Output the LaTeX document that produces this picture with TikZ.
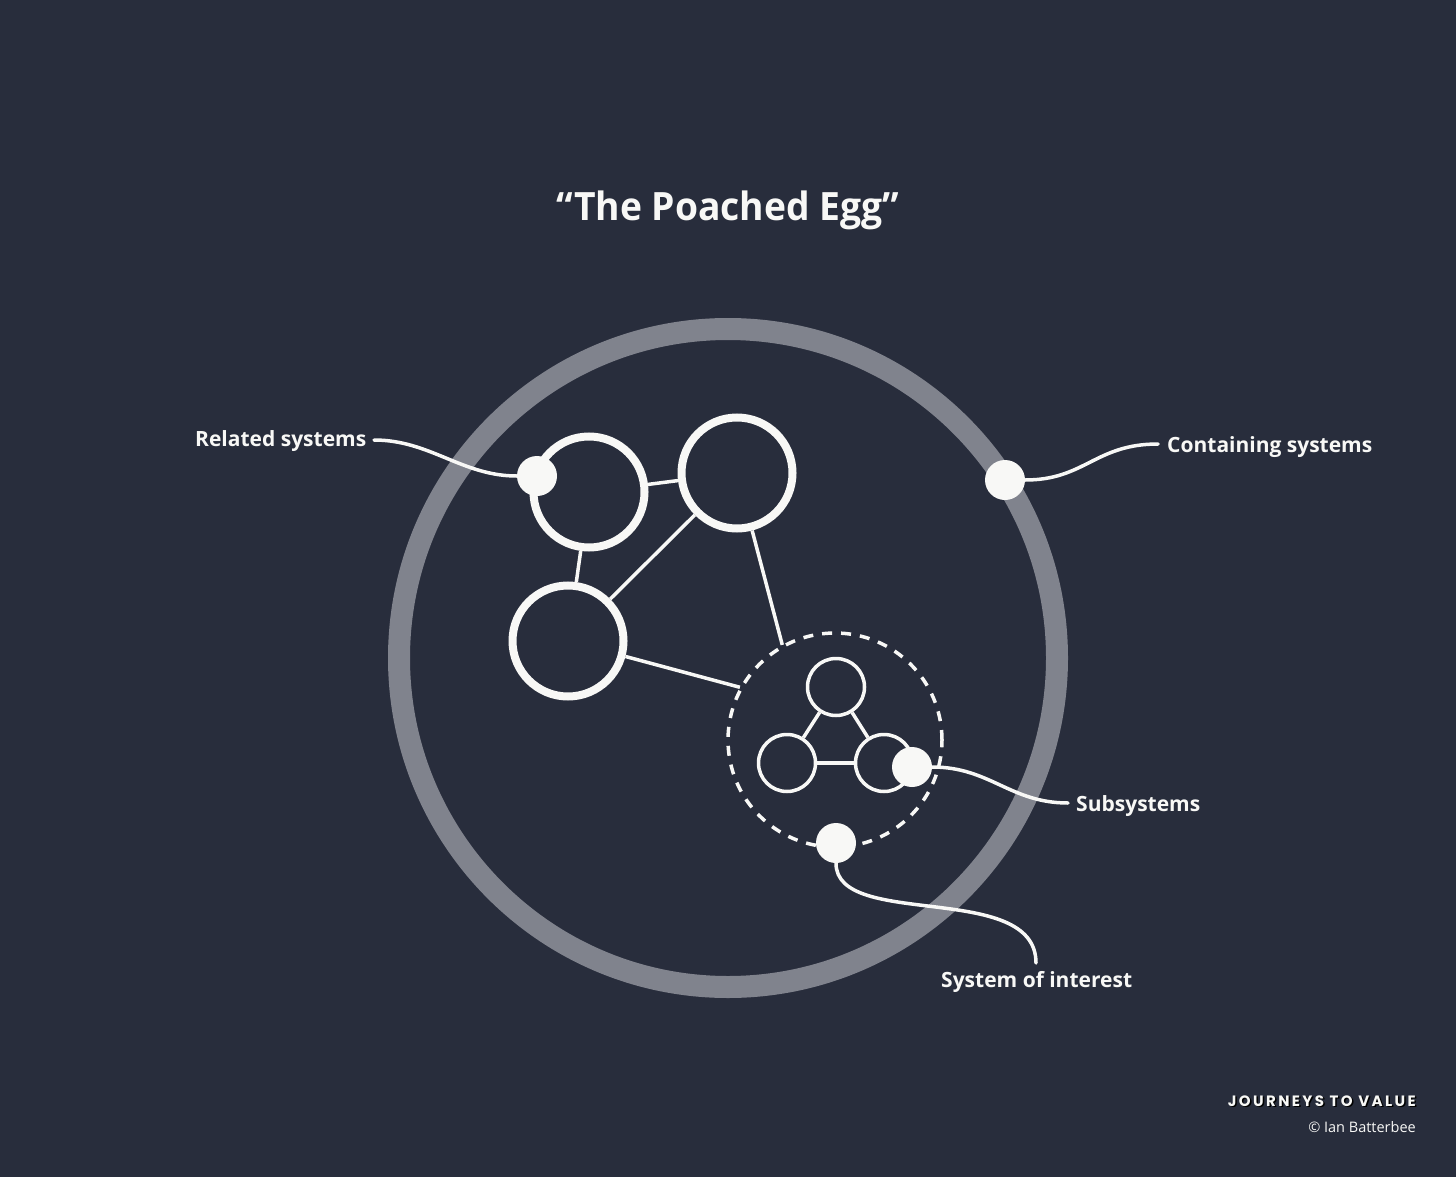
\documentclass[tikz,border=0pt]{standalone}
\usepackage{fontspec}
\setmainfont{Open Sans}
\newfontfamily\labfont{Open Sans}
\newfontfamily\titlefont[FakeStretch=0.955]{Open Sans}
\newfontfamily\brandfont[LetterSpace=16]{Poppins}
\definecolor{bgc}{HTML}{282D3C}
\definecolor{ringc}{HTML}{80838D}
\definecolor{wht}{HTML}{F8F8F6}
\begin{document}
\begin{tikzpicture}[x=1pt,y=-1pt,
  sysc/.style={circle,draw=wht,line width=8pt,minimum size=111pt,inner sep=0pt},
  subc/.style={circle,draw=wht,line width=3.5pt,minimum size=57pt,inner sep=0pt},
  dotc/.style={circle,fill=wht,minimum size=40pt,inner sep=0pt},
  link/.style={draw=wht,line width=3.5pt},
  leader/.style={draw=wht,line width=3.5pt,line cap=round},
  lbl/.style={text=wht,font=\labfont\bfseries\fontsize{21}{24}\selectfont,inner sep=0pt}]
\fill[bgc] (0,0) rectangle (1456,1177);
% containing ring
\node[circle,draw=ringc,line width=22pt,minimum size=658pt,inner sep=0pt] (ring) at (728,658) {};
% related systems
\node[sysc] (A) at (589,492) {};
\node[sysc] (B) at (737,473) {};
\node[sysc] (C) at (568,641) {};
\node[circle,draw=wht,line width=3.5pt,dash pattern=on 10pt off 9pt,minimum size=214pt,inner sep=0pt] (D) at (835,740) {};
\draw[link] (A) -- (B);
\draw[link] (A) -- (C);
\draw[link] (C) -- (B);
\draw[link] (B) -- (D.119);
\draw[link] (C) -- (D.151);
% subsystems
\node[subc] (s1) at (836,687) {};
\node[subc] (s2) at (787,763) {};
\node[subc] (s3) at (884,763) {};
\draw[link] (s1) -- (s2);
\draw[link] (s1) -- (s3);
\draw[link] (s2) -- (s3);
% dots
\node[dotc] (dR) at (537,476) {};
\node[dotc] (dC) at (1005,480) {};
\node[dotc] (dS) at (912,767) {};
\node[dotc] (dI) at (836,843) {};
% labels
\node[text=wht,font=\titlefont\bfseries\fontsize{39}{44}\selectfont,inner sep=0pt,anchor=base] (title) at (728,221) {“The Poached Egg”};
\node[lbl,anchor=base west] (lR) at (195,446) {Related systems};
\node[lbl,anchor=base west] (lC) at (1167,452) {Containing systems};
\node[lbl,anchor=base west] (lS) at (1076,811) {Subsystems};
\node[lbl,anchor=base west] (lI) at (941,987) {System of interest};
% leader ends
\coordinate (eR) at (374,440);
\coordinate (eC) at (1158,444);
\coordinate (eS) at (1068,803);
\coordinate (eI) at (1036,963);
\draw[leader] (eR) .. controls (430,440) and (462,476) .. (dR);
\draw[leader] (dC) .. controls (1085,480) and (1095,444) .. (eC);
\draw[leader] (dS) .. controls (990,767) and (1010,803) .. (eS);
\draw[leader] (dI) .. controls (836,930) and (1036,880) .. (eI);
% credits
\node[text=black,font=\brandfont\bfseries\fontsize{15}{18}\selectfont,inner sep=0pt,anchor=base east] (brandsh) at (1417.5,1107.5) {JOURNEYS TO VALUE};
\node[text=wht,font=\brandfont\bfseries\fontsize{15}{18}\selectfont,inner sep=0pt,anchor=base east] (brand) at (1416,1106) {JOURNEYS TO VALUE};
\node[text=wht,font=\fontsize{14.5}{17}\selectfont,inner sep=0pt,anchor=base east] (copy) at (1416,1132) {© Ian Batterbee};
\end{tikzpicture}
\end{document}
